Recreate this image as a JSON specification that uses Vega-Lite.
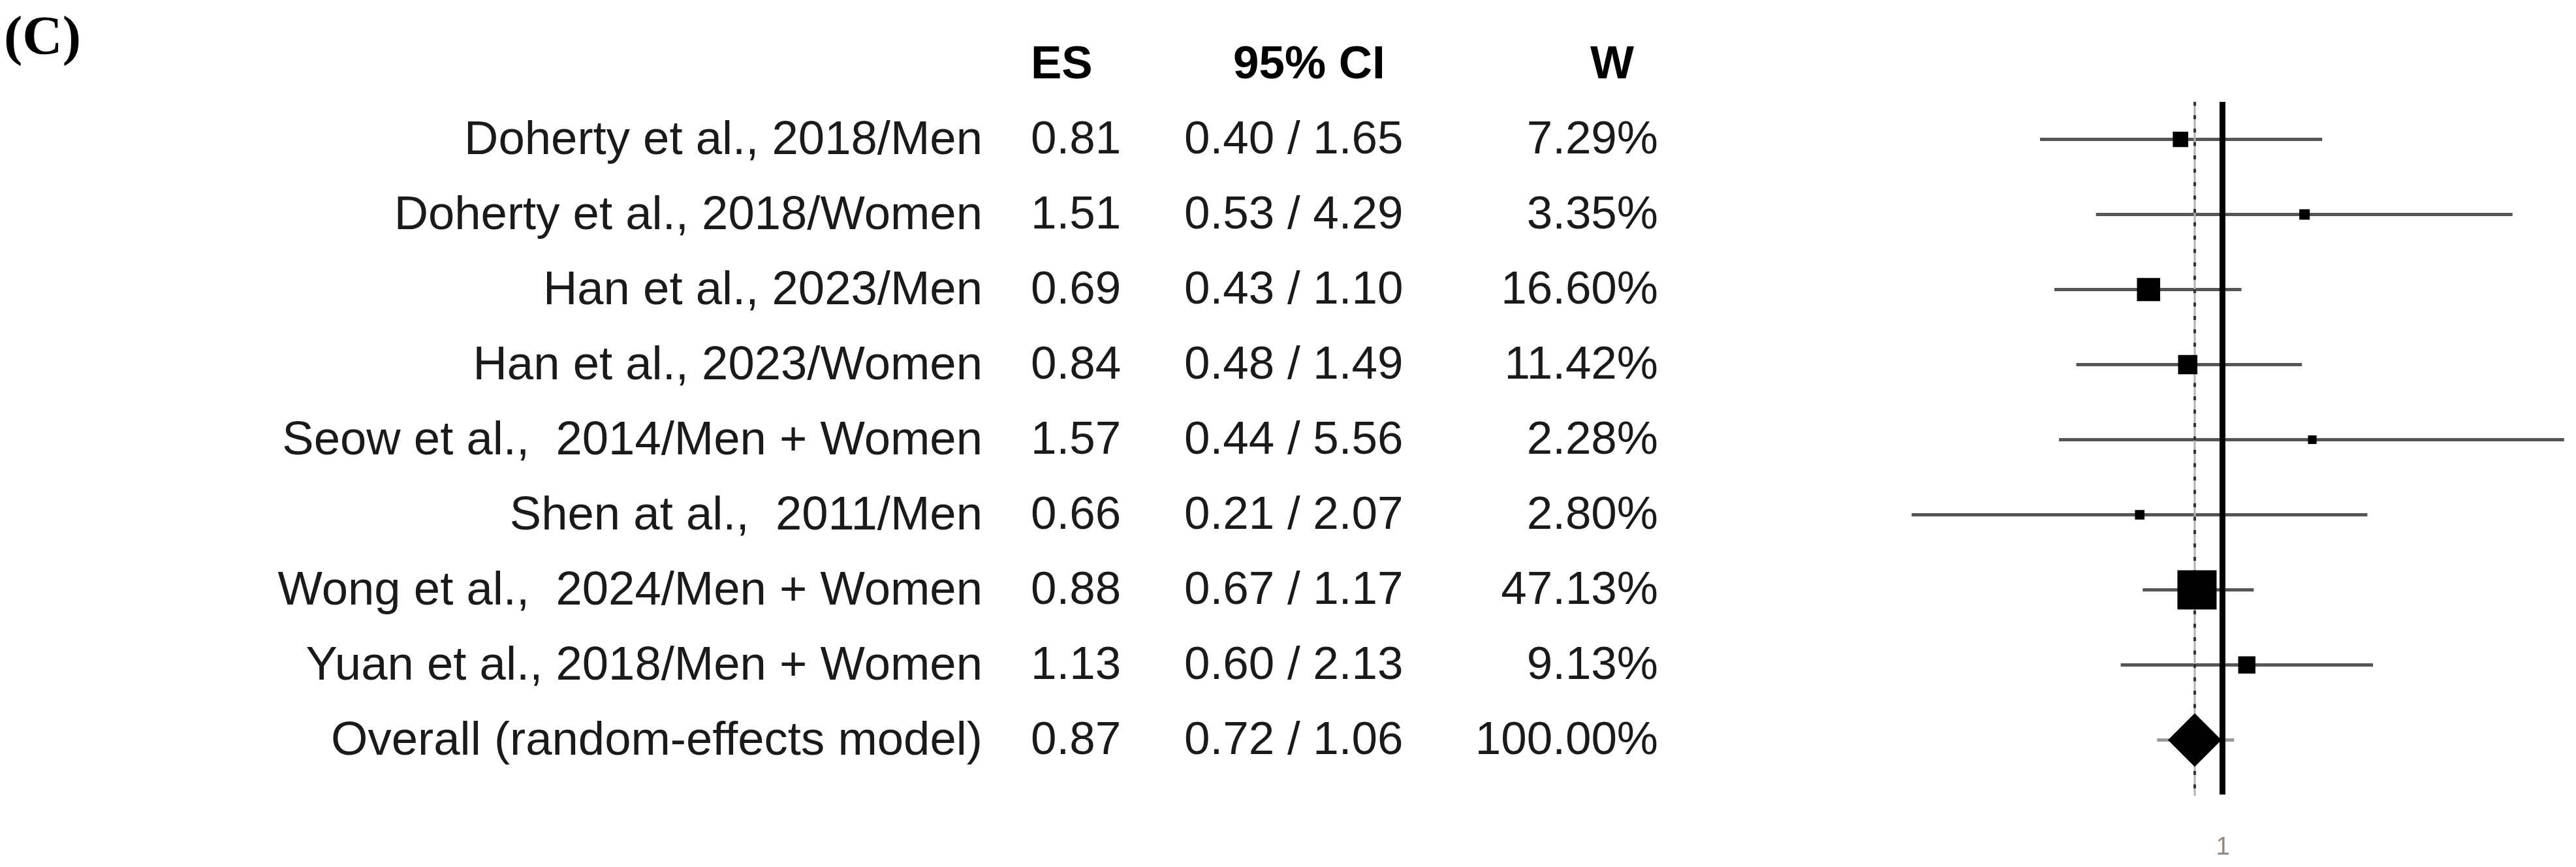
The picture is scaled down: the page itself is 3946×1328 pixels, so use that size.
{
  "$schema": "https://vega.github.io/schema/vega-lite/v6.json",
  "background": "white",
  "padding": {"left": 0, "top": 15, "right": 0, "bottom": 0},
  "autosize": {"type": "pad"},
  "title": {"text": "(C)", "anchor": "start", "orient": "top", "font": "Liberation Serif", "fontSize": 85, "fontWeight": "bold", "color": "black", "offset": -60, "dx": 6},
  "datasets": {
    "studies": [
      {"label": "Doherty et al., 2018/Men", "es": 0.81, "lo": 0.40, "hi": 1.65, "ci": "0.40 / 1.65", "w": 7.29, "wt": "7.29%", "kind": "study"},
      {"label": "Doherty et al., 2018/Women", "es": 1.51, "lo": 0.53, "hi": 4.29, "ci": "0.53 / 4.29", "w": 3.35, "wt": "3.35%", "kind": "study"},
      {"label": "Han et al., 2023/Men", "es": 0.69, "lo": 0.43, "hi": 1.10, "ci": "0.43 / 1.10", "w": 16.60, "wt": "16.60%", "kind": "study"},
      {"label": "Han et al., 2023/Women", "es": 0.84, "lo": 0.48, "hi": 1.49, "ci": "0.48 / 1.49", "w": 11.42, "wt": "11.42%", "kind": "study"},
      {"label": "Seow et al., \u00a02014/Men + Women", "es": 1.57, "lo": 0.44, "hi": 5.56, "ci": "0.44 / 5.56", "w": 2.28, "wt": "2.28%", "kind": "study"},
      {"label": "Shen at al., \u00a02011/Men", "es": 0.66, "lo": 0.21, "hi": 2.07, "ci": "0.21 / 2.07", "w": 2.80, "wt": "2.80%", "kind": "study"},
      {"label": "Wong et al., \u00a02024/Men + Women", "es": 0.88, "lo": 0.67, "hi": 1.17, "ci": "0.67 / 1.17", "w": 47.13, "wt": "47.13%", "kind": "study"},
      {"label": "Yuan et al., 2018/Men + Women", "es": 1.13, "lo": 0.60, "hi": 2.13, "ci": "0.60 / 2.13", "w": 9.13, "wt": "9.13%", "kind": "study"},
      {"label": "Overall (random-effects model)", "es": 0.87, "lo": 0.72, "hi": 1.06, "ci": "0.72 / 1.06", "w": 100.00, "wt": "100.00%", "kind": "overall"}
    ]
  },
  "data": {"name": "studies"},
  "spacing": 0,
  "bounds": "flush",
  "config": {
    "view": {"stroke": null},
    "text": {"font": "Liberation Sans", "fontSize": 71, "color": "#1a1a1a"}
  },
  "hconcat": [
    {
      "width": 1505, "height": 1150,
      "mark": {"type": "text", "align": "right", "x": "width", "fontSize": 72.5},
      "encoding": {
        "y": {"field": "label", "type": "nominal", "axis": null, "scale": {"type": "band", "paddingInner": 0, "paddingOuter": 0, "domain": ["_hdr", "Doherty et al., 2018/Men", "Doherty et al., 2018/Women", "Han et al., 2023/Men", "Han et al., 2023/Women", "Seow et al., \u00a02014/Men + Women", "Shen at al., \u00a02011/Men", "Wong et al., \u00a02024/Men + Women", "Yuan et al., 2018/Men + Women", "Overall (random-effects model)"]}},
        "text": {"field": "label", "type": "nominal"}
      }
    },
    {
      "width": 309, "height": 1150,
      "layer": [
        {
          "mark": {"type": "text", "align": "left", "x": 0, "dx": 74},
          "encoding": {
            "y": {"field": "label", "type": "nominal", "axis": null, "scale": {"type": "band", "paddingInner": 0, "paddingOuter": 0, "domain": ["_hdr", "Doherty et al., 2018/Men", "Doherty et al., 2018/Women", "Han et al., 2023/Men", "Han et al., 2023/Women", "Seow et al., \u00a02014/Men + Women", "Shen at al., \u00a02011/Men", "Wong et al., \u00a02024/Men + Women", "Yuan et al., 2018/Men + Women", "Overall (random-effects model)"]}},
            "text": {"field": "es", "type": "quantitative", "format": ".2f"}
          }
        },
        {
          "data": {"values": [{"h": "ES"}]},
          "mark": {"type": "text", "align": "left", "x": 0, "dx": 74, "fontWeight": "bold", "color": "black"},
          "encoding": {
            "y": {"datum": "_hdr", "type": "nominal", "axis": null, "scale": {"type": "band", "paddingInner": 0, "paddingOuter": 0, "domain": ["_hdr", "Doherty et al., 2018/Men", "Doherty et al., 2018/Women", "Han et al., 2023/Men", "Han et al., 2023/Women", "Seow et al., \u00a02014/Men + Women", "Shen at al., \u00a02011/Men", "Wong et al., \u00a02024/Men + Women", "Yuan et al., 2018/Men + Women", "Overall (random-effects model)"]}},
            "text": {"field": "h", "type": "nominal"}
          }
        }
      ]
    },
    {
      "width": 426, "height": 1150,
      "layer": [
        {
          "mark": {"type": "text", "align": "left", "x": 0},
          "encoding": {
            "y": {"field": "label", "type": "nominal", "axis": null, "scale": {"type": "band", "paddingInner": 0, "paddingOuter": 0, "domain": ["_hdr", "Doherty et al., 2018/Men", "Doherty et al., 2018/Women", "Han et al., 2023/Men", "Han et al., 2023/Women", "Seow et al., \u00a02014/Men + Women", "Shen at al., \u00a02011/Men", "Wong et al., \u00a02024/Men + Women", "Yuan et al., 2018/Men + Women", "Overall (random-effects model)"]}},
            "text": {"field": "ci", "type": "nominal"}
          }
        },
        {
          "data": {"values": [{"h": "95% CI"}]},
          "mark": {"type": "text", "align": "left", "x": 0, "dx": 75, "fontWeight": "bold", "color": "black"},
          "encoding": {
            "y": {"datum": "_hdr", "type": "nominal", "axis": null, "scale": {"type": "band", "paddingInner": 0, "paddingOuter": 0, "domain": ["_hdr", "Doherty et al., 2018/Men", "Doherty et al., 2018/Women", "Han et al., 2023/Men", "Han et al., 2023/Women", "Seow et al., \u00a02014/Men + Women", "Shen at al., \u00a02011/Men", "Wong et al., \u00a02024/Men + Women", "Yuan et al., 2018/Men + Women", "Overall (random-effects model)"]}},
            "text": {"field": "h", "type": "nominal"}
          }
        }
      ]
    },
    {
      "width": 300, "height": 1150,
      "layer": [
        {
          "mark": {"type": "text", "align": "right", "x": "width"},
          "encoding": {
            "y": {"field": "label", "type": "nominal", "axis": null, "scale": {"type": "band", "paddingInner": 0, "paddingOuter": 0, "domain": ["_hdr", "Doherty et al., 2018/Men", "Doherty et al., 2018/Women", "Han et al., 2023/Men", "Han et al., 2023/Women", "Seow et al., \u00a02014/Men + Women", "Shen at al., \u00a02011/Men", "Wong et al., \u00a02024/Men + Women", "Yuan et al., 2018/Men + Women", "Overall (random-effects model)"]}},
            "text": {"field": "wt", "type": "nominal"}
          }
        },
        {
          "data": {"values": [{"h": "W"}]},
          "mark": {"type": "text", "align": "right", "x": "width", "dx": -37, "fontWeight": "bold", "color": "black"},
          "encoding": {
            "y": {"datum": "_hdr", "type": "nominal", "axis": null, "scale": {"type": "band", "paddingInner": 0, "paddingOuter": 0, "domain": ["_hdr", "Doherty et al., 2018/Men", "Doherty et al., 2018/Women", "Han et al., 2023/Men", "Han et al., 2023/Women", "Seow et al., \u00a02014/Men + Women", "Shen at al., \u00a02011/Men", "Wong et al., \u00a02024/Men + Women", "Yuan et al., 2018/Men + Women", "Overall (random-effects model)"]}},
            "text": {"field": "h", "type": "nominal"}
          }
        }
      ]
    },
    {
      "width": 1390, "height": 1150,
      "encoding": {
        "y": {"field": "label", "type": "nominal", "axis": null, "scale": {"type": "band", "paddingInner": 0, "paddingOuter": 0, "domain": ["_hdr", "Doherty et al., 2018/Men", "Doherty et al., 2018/Women", "Han et al., 2023/Men", "Han et al., 2023/Women", "Seow et al., \u00a02014/Men + Women", "Shen at al., \u00a02011/Men", "Wong et al., \u00a02024/Men + Women", "Yuan et al., 2018/Men + Women", "Overall (random-effects model)"]}}
      },
      "layer": [
        {
          "transform": [{"filter": "datum.kind === 'study'"}],
          "mark": {"type": "rule", "color": "#555555", "strokeWidth": 5},
          "encoding": {
            "x": {"field": "lo", "type": "quantitative", "title": null, "scale": {"type": "log", "domain": [0.0588, 5.6], "nice": false}, "axis": {"values": [1], "format": "~g", "domain": false, "ticks": false, "grid": false, "labelFontSize": 38, "labelColor": "#8a8a8a", "labelFont": "Liberation Sans", "labelPadding": 87, "labelBaseline": "top"}},
            "x2": {"field": "hi"}
          }
        },
        {
          "transform": [{"filter": "datum.kind === 'overall'"}],
          "mark": {"type": "rule", "color": "#999999", "strokeWidth": 5},
          "encoding": {
            "x": {"field": "lo", "type": "quantitative", "title": null},
            "x2": {"field": "hi"}
          }
        },
        {
          "transform": [{"filter": "datum.kind === 'overall'"}],
          "mark": {"type": "rule", "color": "#b0b0b0", "strokeWidth": 3, "y2Offset": 28},
          "encoding": {
            "x": {"field": "es", "type": "quantitative", "title": null},
            "y": {"datum": "Doherty et al., 2018/Men", "type": "nominal", "bandPosition": 0},
            "y2": {"datum": "Overall (random-effects model)", "bandPosition": 1}
          }
        },
        {
          "transform": [{"filter": "datum.kind === 'overall'"}],
          "mark": {"type": "rule", "color": "#333333", "strokeWidth": 4, "strokeDash": [6, 14.5], "y2Offset": 28},
          "encoding": {
            "x": {"field": "es", "type": "quantitative", "title": null},
            "y": {"datum": "Doherty et al., 2018/Men", "type": "nominal", "bandPosition": 0},
            "y2": {"datum": "Overall (random-effects model)", "bandPosition": 1}
          }
        },
        {
          "data": {"values": [{"ref": 1}]},
          "mark": {"type": "rule", "color": "black", "strokeWidth": 9, "y2Offset": 26},
          "encoding": {
            "x": {"field": "ref", "type": "quantitative", "title": null},
            "y": {"datum": "Doherty et al., 2018/Men", "type": "nominal", "bandPosition": 0},
            "y2": {"datum": "Overall (random-effects model)", "bandPosition": 1}
          }
        },
        {
          "transform": [{"filter": "datum.kind === 'study'"}],
          "mark": {"type": "point", "shape": "square", "filled": true, "color": "black", "opacity": 1},
          "encoding": {
            "x": {"field": "es", "type": "quantitative", "title": null},
            "size": {"field": "w", "type": "quantitative", "legend": null, "scale": {"type": "linear", "domain": [0, 50], "range": [0, 3820]}}
          }
        },
        {
          "transform": [{"filter": "datum.kind === 'overall'"}],
          "mark": {"type": "point", "shape": "diamond", "filled": true, "color": "black", "opacity": 1, "size": 6724},
          "encoding": {
            "x": {"field": "es", "type": "quantitative", "title": null}
          }
        }
      ]
    }
  ]
}
